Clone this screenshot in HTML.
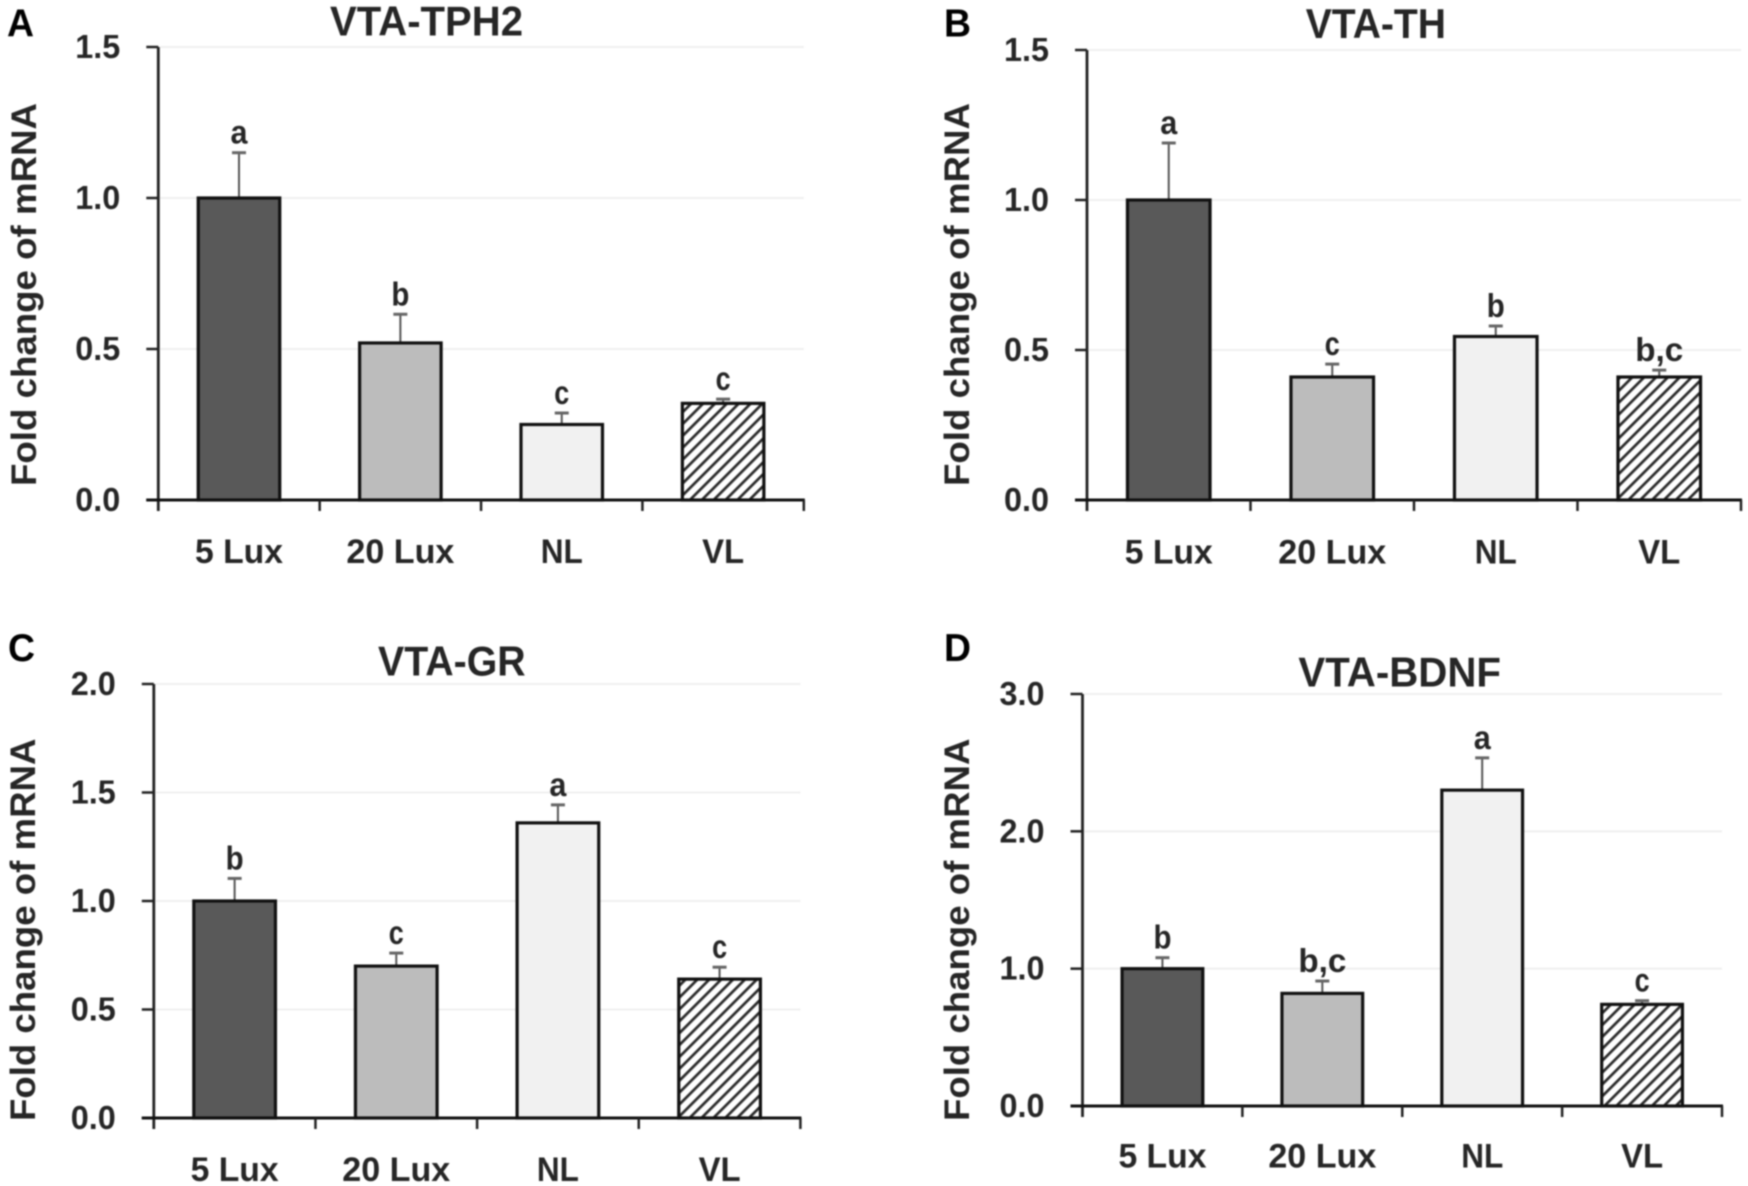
<!DOCTYPE html>
<html lang="en">
<head>
<meta charset="utf-8">
<title>VTA mRNA fold change</title>
<style>
html,body{margin:0;padding:0;background:#fff;width:1748px;height:1186px;overflow:hidden}
svg{display:block;filter:blur(0.7px)}
text{font-family:"Liberation Sans",sans-serif;font-weight:700;fill:#262626}
</style>
</head>
<body>
<svg id="fig" width="1748" height="1186" viewBox="0 0 1748 1186" xmlns="http://www.w3.org/2000/svg">
<defs>
<pattern id="hatch" patternUnits="userSpaceOnUse" width="8.4" height="8.4" patternTransform="rotate(45)">
<rect width="8.4" height="8.4" fill="#fff"/>
<rect width="2.7" height="8.4" fill="#2a2a2a"/>
</pattern>
</defs>
</svg>
<script>
const categories = ['5 Lux', '20 Lux', 'NL', 'VL'];
const yAxisTitle = 'Fold change of mRNA';

const tph2Values = [1.0, 0.52, 0.25, 0.32];
const tph2Errors = [0.15, 0.095, 0.038, 0.014];
const tph2Letters = ['a', 'b', 'c', 'c'];
const tph2Ticks = ['0.0', '0.5', '1.0', '1.5'];

const thValues = [1.0, 0.41, 0.545, 0.41];
const thErrors = [0.19, 0.043, 0.035, 0.023];
const thLetters = ['a', 'c', 'b', 'b,c'];
const thTicks = ['0.0', '0.5', '1.0', '1.5'];

const grValues = [1.0, 0.70, 1.36, 0.64];
const grErrors = [0.104, 0.06, 0.083, 0.055];
const grLetters = ['b', 'c', 'a', 'c'];
const grTicks = ['0.0', '0.5', '1.0', '1.5', '2.0'];

const bdnfValues = [1.0, 0.82, 2.3, 0.74];
const bdnfErrors = [0.08, 0.09, 0.235, 0.027];
const bdnfLetters = ['b', 'b,c', 'a', 'c'];
const bdnfTicks = ['0.0', '1.0', '2.0', '3.0'];

const panels = [
  {key:'a', letter:'A', title:'VTA-TPH2', values:tph2Values, errors:tph2Errors, marks:tph2Letters, ticks:tph2Ticks,
   frame:{x0:158.3, x1:803.8, yTop:47, yBase:500}, letterPos:[7,36.7], titlePos:[330,35.5,193], yTitlePos:[36,486,383], xLabelBase:563},
  {key:'b', letter:'B', title:'VTA-TH', values:thValues, errors:thErrors, marks:thLetters, ticks:thTicks,
   frame:{x0:1087, x1:1741, yTop:50, yBase:500}, letterPos:[944,36.7], titlePos:[1305.7,38,140.3], yTitlePos:[969,486,383], xLabelBase:563.4},
  {key:'c', letter:'C', title:'VTA-GR', values:grValues, errors:grErrors, marks:grLetters, ticks:grTicks,
   frame:{x0:153.8, x1:800.4, yTop:684, yBase:1118}, letterPos:[8,661], titlePos:[378,675.5,147.6], yTitlePos:[35,1121,382.4], xLabelBase:1181},
  {key:'d', letter:'D', title:'VTA-BDNF', values:bdnfValues, errors:bdnfErrors, marks:bdnfLetters, ticks:bdnfTicks,
   frame:{x0:1082.5, x1:1722, yTop:694, yBase:1106}, letterPos:[944,661], titlePos:[1298.4,686.5,202.6], yTitlePos:[969,1121,382.4], xLabelBase:1167.7}
];

const barFills = ['#595959', '#bcbcbc', '#f1f1f1', 'url(#hatch)'];
const labelWidths = {'5 Lux':88, '20 Lux':108, 'NL':42, 'VL':42, 'a':17, 'b':18, 'c':15, 'b,c':48};

const NS = 'http://www.w3.org/2000/svg';
const fig = document.getElementById('fig');

function make(parent, tag, attrs, txt) {
  const el = document.createElementNS(NS, tag);
  for (const k in attrs) el.setAttribute(k, attrs[k]);
  if (txt !== undefined) el.textContent = txt;
  parent.appendChild(el);
  return el;
}

function drawPanel(p) {
  const f = p.frame;
  const tickVals = p.ticks.map(Number);
  const yMax = Math.max.apply(null, tickVals);
  const yScale = v => f.yBase - (v / yMax) * (f.yBase - f.yTop);
  const band = (f.x1 - f.x0) / categories.length;
  const xCenter = i => f.x0 + band * (i + 0.5);
  const barW = band * 0.505;

  const g = make(fig, 'g', {});
  
  

  const letter = make(g, 'text', {x:p.letterPos[0], y:p.letterPos[1], 'font-size':39, textLength:27, lengthAdjust:'spacingAndGlyphs', style:'fill:#000'}, p.letter);
  
  

  const title = make(g, 'text', {x:p.titlePos[0], y:p.titlePos[1], 'font-size':42, textLength:p.titlePos[2], lengthAdjust:'spacingAndGlyphs'}, p.title);
  
  

  const yt = make(g, 'text', {transform:'translate(' + p.yTitlePos[0] + ',' + p.yTitlePos[1] + ') rotate(-90)', 'font-size':35, textLength:p.yTitlePos[2], lengthAdjust:'spacingAndGlyphs'}, yAxisTitle);
  
  

  tickVals.forEach((v, i) => {
    const y = yScale(v);
    if (v > 0) {
      const grid = make(g, 'line', {x1:f.x0 + 2, x2:f.x1, y1:y, y2:y, stroke:'#efefef', 'stroke-width':2});
      
      
    }
    const tick = make(g, 'line', {x1:f.x0 - 12, x2:f.x0, y1:y, y2:y, stroke:'#222', 'stroke-width':2.5});
    
    
    const lab = make(g, 'text', {x:f.x0 - 83, y:y + 11, 'font-size':33, textLength:45, lengthAdjust:'spacingAndGlyphs'}, p.ticks[i]);
    
    
  });

  categories.forEach((c, i) => {
    const cx = xCenter(i);
    const top = yScale(p.values[i]);
    const errTop = yScale(p.values[i] + p.errors[i]);

    const stem = make(g, 'line', {x1:cx, x2:cx, y1:top, y2:errTop, stroke:'#555', 'stroke-width':2});
    
    
    const cap = make(g, 'line', {x1:cx - 7, x2:cx + 7, y1:errTop, y2:errTop, stroke:'#666', 'stroke-width':3});
    
    

    const bar = make(g, 'rect', {x:cx - barW / 2, y:top, width:barW, height:f.yBase - top, fill:barFills[i], stroke:'#111', 'stroke-width':3.2});
    
    

    const w = labelWidths[p.marks[i]];
    const sig = make(g, 'text', {x:cx - w / 2, y:errTop - 9, 'font-size':33, textLength:w, lengthAdjust:'spacingAndGlyphs'}, p.marks[i]);
    
    

    const lw = labelWidths[c];
    const xl = make(g, 'text', {x:cx - lw / 2, y:p.xLabelBase, 'font-size':34, textLength:lw, lengthAdjust:'spacingAndGlyphs'}, c);
    
    
  });

  const yAxis = make(g, 'line', {x1:f.x0, x2:f.x0, y1:f.yTop, y2:f.yBase + 11, stroke:'#222', 'stroke-width':2.8});
  
  
  const xAxis = make(g, 'line', {x1:f.x0 - 12, x2:f.x1 + 1, y1:f.yBase, y2:f.yBase, stroke:'#111', 'stroke-width':3});
  
  
  for (let i = 1; i <= categories.length; i++) {
    const tx = f.x0 + band * i;
    const xt = make(g, 'line', {x1:tx, x2:tx, y1:f.yBase, y2:f.yBase + 11, stroke:'#222', 'stroke-width':2.5});
    
    
  }
}

panels.forEach(drawPanel);
</script>
</body>
</html>
